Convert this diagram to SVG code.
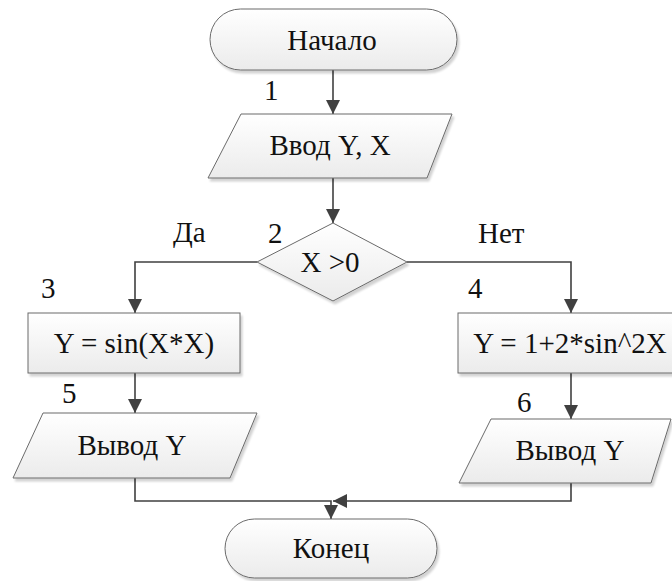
<svg xmlns="http://www.w3.org/2000/svg" width="672" height="581" viewBox="0 0 672 581">
<defs>
<linearGradient id="g" x1="0" y1="0" x2="0" y2="1">
<stop offset="0" stop-color="#ffffff"/>
<stop offset="1" stop-color="#ebebeb"/>
</linearGradient>
<filter id="sh" x="-10%" y="-10%" width="130%" height="140%">
<feGaussianBlur in="SourceAlpha" stdDeviation="1"/>
<feOffset dx="2" dy="3" result="o"/>
<feComponentTransfer><feFuncA type="linear" slope="0.18"/></feComponentTransfer>
<feMerge><feMergeNode/><feMergeNode in="SourceGraphic"/></feMerge>
</filter>
<marker id="ah" viewBox="0 0 10 10" refX="10" refY="5" markerWidth="14" markerHeight="14" markerUnits="userSpaceOnUse" orient="auto">
<path d="M0,0 L10,5 L0,10 Z" fill="#404040"/>
</marker>
</defs>
<style>
.s{fill:url(#g);stroke:#6a6a6a;stroke-width:1;filter:url(#sh)}
.t{font-family:"Liberation Serif","Times New Roman",serif;font-size:29px;fill:#111}
.c{text-anchor:middle}
.l{fill:none;stroke:#404040;stroke-width:1.6}
</style>
<g id="connectors">
<path class="l" d="M333,70 V114" marker-end="url(#ah)"/>
<path class="l" d="M333,178 V223" marker-end="url(#ah)"/>
<path class="l" d="M257,262 H135 V313" marker-end="url(#ah)"/>
<path class="l" d="M407,262 H571 V313" marker-end="url(#ah)"/>
<path class="l" d="M135,373 V413" marker-end="url(#ah)"/>
<path class="l" d="M571,373 V419" marker-end="url(#ah)"/>
<path class="l" d="M135,478 V501 H331 V519" marker-end="url(#ah)"/>
<path class="l" d="M571,483 V501 H333" marker-end="url(#ah)"/>
</g>
<g id="start">
<rect class="s" x="210" y="9" width="247" height="61" rx="30.5"/>
<text class="t c" x="332" y="50">Начало</text>
</g>
<g id="n1">
<polygon class="s" points="241,114 452,114 427,178 208,178"/>
<text class="t c" x="330" y="155">Ввод Y, X</text>
<text class="t" x="264" y="100">1</text>
</g>
<g id="n2">
<polygon class="s" points="333,223 407,262 333,301 257,262"/>
<text class="t c" x="330" y="272">X &gt;0</text>
<text class="t" x="268" y="243">2</text>
<text class="t" x="173" y="242">Да</text>
<text class="t" x="478" y="243">Нет</text>
</g>
<g id="n3">
<rect class="s" x="28" y="313" width="212" height="60"/>
<text class="t c" x="134" y="353">Y = sin(X*X)</text>
<text class="t" x="41" y="298">3</text>
</g>
<g id="n4">
<rect class="s" x="458" y="313" width="226" height="60"/>
<text class="t c" x="570" y="353">Y = 1+2*sin^2X</text>
<text class="t" x="468" y="298">4</text>
</g>
<g id="n5">
<polygon class="s" points="43,413 257,413 230,478 13,478"/>
<text class="t c" x="132" y="455">Вывод Y</text>
<text class="t" x="62" y="403">5</text>
</g>
<g id="n6">
<polygon class="s" points="491,419 671,419 651,483 459,483"/>
<text class="t c" x="570" y="460">Вывод Y</text>
<text class="t" x="517" y="412">6</text>
</g>
<g id="end">
<rect class="s" x="225" y="519" width="212" height="59" rx="29.5"/>
<text class="t c" x="331" y="558">Конец</text>
</g>
</svg>
